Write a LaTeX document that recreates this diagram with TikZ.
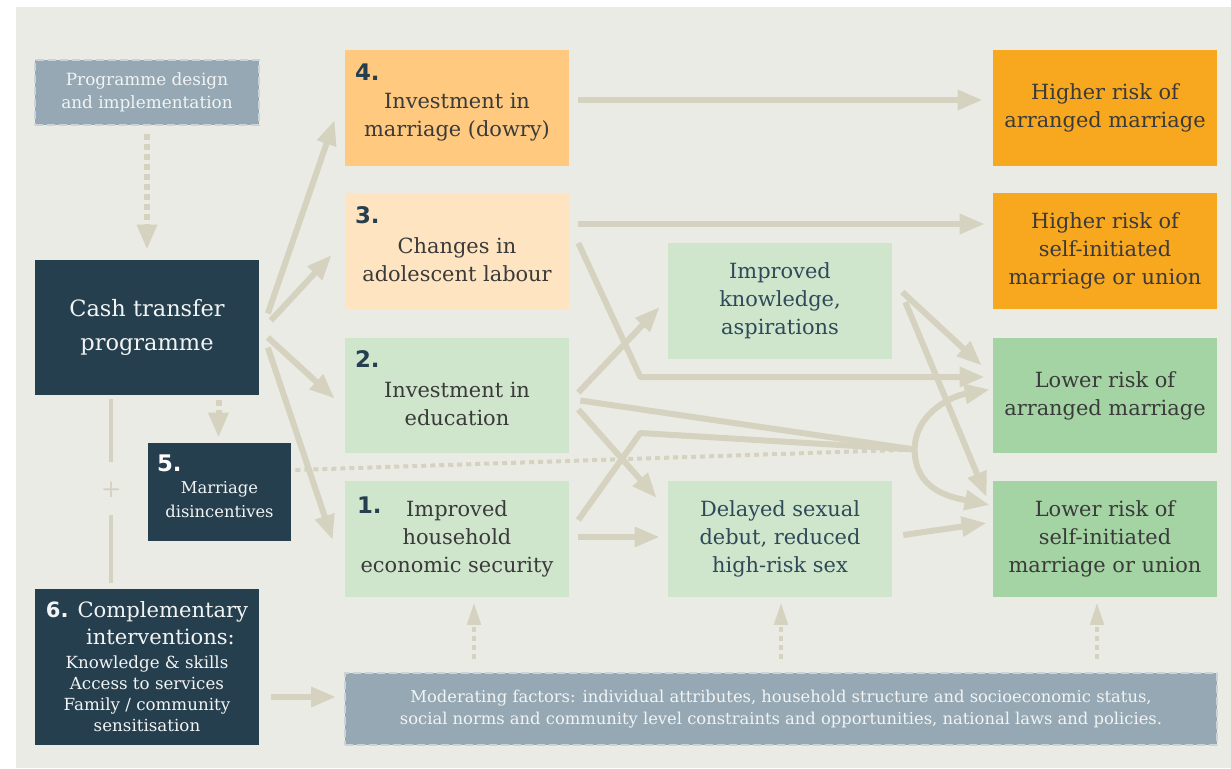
\documentclass[tikz,border=0pt]{standalone}
\usepackage{fontspec}
\setmainfont{DejaVu Serif}
\newfontfamily\numfont{DejaVu Sans}
\usepackage{tikz}
\usetikzlibrary{arrows.meta, calc, positioning}

\definecolor{panel}{HTML}{EBEBE5}
\definecolor{navy}{HTML}{263F4E}
\definecolor{slate}{HTML}{95A8B4}
\definecolor{slateline}{HTML}{C9D3D8}
\definecolor{beige}{HTML}{D5D2BF}
\definecolor{dowry}{HTML}{FFC980}
\definecolor{labour}{HTML}{FFE4C2}
\definecolor{midgreen}{HTML}{CFE6CD}
\definecolor{highrisk}{HTML}{F8A81F}
\definecolor{lowrisk}{HTML}{A4D4A4}
\definecolor{textgrey}{HTML}{3A3A3A}
\definecolor{textnavy}{HTML}{2E4A58}
\definecolor{paletext}{HTML}{F2F4F4}

\begin{document}
\begin{tikzpicture}[x=0.02cm, y=-0.02cm,
    box/.style={minimum width=4.48cm, minimum height=2.32cm, inner sep=0pt},
    darkbox/.style={fill=navy, text=paletext, align=center, inner sep=0pt},
    dashbox/.style={fill=slate, draw=slateline, line width=0.04cm, dash pattern=on 0.16cm off 0.08cm, text=paletext, align=center},
    txt/.style={align=center, inner sep=0pt, text=textgrey, font=\fontsize{11.9}{16}\selectfont},
    num/.style={anchor=north west, inner sep=0pt, text=navy, font=\numfont\bfseries\fontsize{13}{13}\selectfont},
    conn/.style={draw=beige, line width=0.12cm, line join=round},
    arr/.style={conn, -{Triangle[length=0.5cm, width=0.38cm]}},
    dotarr/.style={arr, dash pattern=on 0.12cm off 0.08cm},
    dotline/.style={draw=beige, line width=0.08cm, dash pattern=on 0.1cm off 0.08cm},
    updot/.style={draw=beige, line width=0.09cm, dash pattern=on 0.1cm off 0.08cm, -{Triangle[length=0.45cm, width=0.26cm]}},
]
    % Background
    \fill[white] (0,0) rectangle (1231,768);
    \fill[panel] (16,7) rectangle (1231,768);

    % Left column
    \node[dashbox, minimum width=4.48cm, minimum height=1.3cm, font=\fontsize{9.6}{12.8}\selectfont] (design) at (147,92.5) {Programme design\\and implementation};
    \node[darkbox, minimum width=4.5cm, minimum height=2.7cm, font=\fontsize{12.8}{19}\selectfont] (cash) at (147,327.5) {Cash transfer\\programme};
    \node[darkbox, minimum width=2.86cm, minimum height=1.96cm] (dis) at (219.5,492) {};
    \node[num, text=white] (n5) at ($(dis.north west)+(9,12)$) {5.};
    \node[txt, text=paletext, font=\fontsize{9.3}{13.6}\selectfont] (t5) at ($(dis.center)+(0,8)$) {Marriage\\disincentives};
    \node[darkbox, minimum width=4.5cm, minimum height=3.12cm] (comp) at (147,667) {};
    \node[txt, text=paletext, font=\fontsize{12}{15.5}\selectfont] (t6) at (147,623.5) {{\numfont\bfseries 6.} Complementary\\\hphantom{6.~}interventions:};
    \node[txt, text=paletext, font=\fontsize{9.5}{12}\selectfont] (t6b) at (147,693.5) {Knowledge \& skills\\Access to services\\Family / community\\sensitisation};

    % Pathways
    \node[box, fill=dowry] (b4) at (457,108) {};
    \node[num] (n4) at ($(b4.north west)+(10,14)$) {4.};
    \node[txt] (t4) at ($(b4.center)+(0,9)$) {Investment in\\marriage (dowry)};
    \node[box, fill=labour] (b3) at (457,251) {};
    \node[num] (n3) at ($(b3.north west)+(10,14)$) {3.};
    \node[txt] (t3) at ($(b3.center)+(0,8.5)$) {Changes in\\adolescent labour};
    \node[box, fill=midgreen] (b2) at (457,395.5) {};
    \node[num] (n2) at ($(b2.north west)+(10,13)$) {2.};
    \node[txt] (t2) at ($(b2.center)+(0,8.5)$) {Investment in\\education};
    \node[box, fill=midgreen] (b1) at (457,539) {};
    \node[num] (n1) at ($(b1.north west)+(12,16)$) {1.};
    \node[txt] (t1) at (b1.center) {Improved\\household\\economic security};

    % Intermediate outcomes
    \node[box, fill=midgreen, txt, text=textnavy] (know) at (780,301) {Improved\\knowledge,\\aspirations};
    \node[box, fill=midgreen, txt, text=textnavy] (debut) at (780,539) {Delayed sexual\\debut, reduced\\high-risk sex};

    % Marriage outcomes
    \node[box, fill=highrisk, txt] (hra) at (1105,108) {Higher risk of\\arranged marriage};
    \node[box, fill=highrisk, txt] (hrs) at (1105,251) {Higher risk of\\self-initiated\\marriage or union};
    \node[box, fill=lowrisk, txt] (lra) at (1105,395.5) {Lower risk of\\arranged marriage};
    \node[box, fill=lowrisk, txt] (lrs) at (1105,539) {Lower risk of\\self-initiated\\marriage or union};

    % Moderating factors
    \node[dashbox, minimum width=17.44cm, minimum height=1.44cm, font=\fontsize{9.3}{12.8}\selectfont] (mod) at (781,709) {Moderating factors: individual attributes, household structure and socioeconomic status,\\social norms and community level constraints and opportunities, national laws and policies.};

    % Left links
    \draw[dotarr] ($(design.south)+(0,8)$) -- ($(cash.north)+(0,-10)$);
    \draw[dotarr] ($(cash.south -| dis.north)+(-1,5)$) -- ($(dis.north)+(-1,-5)$);
    \node[text=beige, font=\fontsize{14}{14}\selectfont, inner sep=0pt] (plus) at ($(cash.south west)+(77,94)$) {+};
    \draw[conn, line width=0.08cm] ($(cash.south west)+(77,4)$) -- ($(plus)+(0,-27)$);
    \draw[conn, line width=0.08cm] ($(plus)+(0,26)$) -- ($(comp.north west)+(77,-6)$);
    \draw[arr] ($(comp.east)+(11,30)$) -- ($(mod.west)+(-8,-12)$);

    % Cash transfer to pathways
    \draw[arr] ($(cash.east)+(8,-14)$) -- ($(b4.west)+(-10,12)$);
    \draw[arr] ($(cash.east)+(11,-7)$) -- ($(b3.west)+(-13,4)$);
    \draw[arr] ($(cash.east)+(8,10)$) -- ($(b2.west)+(-10,3)$);
    \draw[arr] ($(cash.east)+(8,20)$) -- ($(b1.west)+(-12,1)$);

    % Pathways to outcomes
    \draw[arr] ($(b4.east)+(9,-8)$) -- ($(hra.west)+(-10,-8)$);
    \draw[arr] ($(b3.east)+(9,-27)$) -- ($(hrs.west)+(-8,-27)$);
    \draw[arr] ($(b3.east)+(9,-8)$) -- ($(b3.east)+(71,126)$) -- ($(lra.west)+(-8,-18.5)$);
    \draw[arr] ($(b2.east)+(9,-3)$) -- ($(know.west)+(-8,6)$);
    \draw[arr] ($(b2.east)+(9,14)$) -- ($(debut.west)+(-11,-41)$);
    \draw[arr] ($(b1.east)+(9,-2)$) -- ($(debut.west)+(-8,-2)$);

    % Merged paths and split arc
    \coordinate (merge) at ($(lra.west)+(-78,54)$);
    \draw[conn] ($(b2.east)+(11,5)$) -- (merge);
    \draw[conn] ($(b1.east)+(9,-19)$) -- ($(b1.east)+(71,-106)$) -- (merge);
    \draw[dotline] ($(dis.east)+(4,-22)$) -- (merge);
    \draw[arr] (merge) .. controls ($(merge)+(0,-35)$) and ($(lra.west)+(-43,1)$) .. ($(lra.west)+(-3,-6)$);
    \draw[arr] (merge) .. controls ($(merge)+(0,40)$) and ($(lrs.west)+(-43,-42)$) .. ($(lrs.west)+(-3,-34)$);

    % Intermediate to outcomes
    \draw[arr] ($(know.east)+(10,-9)$) -- ($(lra.west)+(-11,-30)$);
    \draw[arr] ($(know.east)+(13,1)$) -- ($(lrs.west)+(-6,-42)$);
    \draw[arr] ($(debut.east)+(11,-4)$) -- ($(lrs.west)+(-6,-16)$);

    % Moderating factors upwards
    \draw[updot] ($(mod.north -| b1.south)+(17,-13)$) -- ($(b1.south)+(17,5)$);
    \draw[updot] ($(mod.north -| debut.south)+(1,-13)$) -- ($(debut.south)+(1,5)$);
    \draw[updot] ($(mod.north -| lrs.south)+(-8,-13)$) -- ($(lrs.south)+(-8,5)$);
\end{tikzpicture}
\end{document}
